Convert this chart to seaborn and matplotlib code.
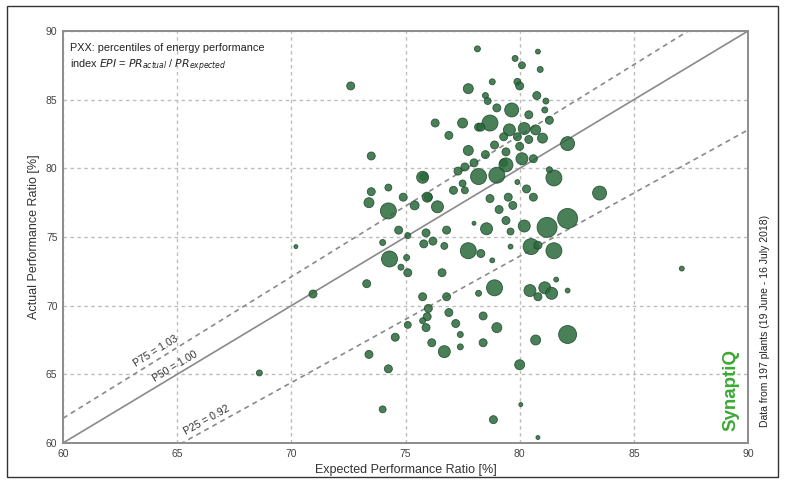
import numpy as np
import pandas as pd
import seaborn as sns
import matplotlib.pyplot as plt
from matplotlib.patches import Rectangle

# expected PR, actual PR, plant weight (bubble area)
expected_pr = [
    72.6, 68.6, 70.2, 70.95, 73.5, 76.3, 76.9, 77.5, 77.75, 78.15,
    77.75, 78.2, 79.8, 80.8, 80.1, 80.9, 78.8, 79.9, 80.0, 78.5,
    80.75, 78.6, 81.15, 79.0, 79.65, 81.1, 80.4, 78.7, 81.3, 78.3,
    79.55, 80.2, 80.7, 79.3, 79.9, 81.0, 80.4, 82.1, 80.0, 78.9,
    79.4, 78.5, 80.1, 80.6, 79.3, 79.4, 79.0, 78.2, 79.9, 81.5,
    81.3, 83.5, 75.8, 76.0, 76.4, 77.1, 77.5, 77.6, 78.0, 78.7,
    79.1, 79.5, 79.7, 80.3, 80.6, 80.2, 79.4, 81.2, 82.1, 78.0,
    78.55, 79.6, 75.9, 76.8, 75.8, 76.2, 76.7, 77.75, 78.3, 79.6,
    80.5, 80.8, 81.5, 78.8, 76.6, 78.9, 78.2, 80.45, 80.8, 81.1,
    81.4, 81.6, 82.1, 75.75, 76.8, 76.0, 75.95, 75.75, 75.9, 76.9,
    77.2, 78.4, 79.0, 77.4, 76.15, 76.7, 77.4, 78.4, 80.7, 82.1,
    80.0, 80.05, 78.85, 80.8, 87.1, 73.5, 74.25, 73.4, 74.25, 74.9,
    75.4, 75.75, 75.95, 77.3, 77.6, 74.7, 75.1, 74.0, 74.3, 75.05,
    74.8, 75.1, 73.3, 75.1, 74.55, 73.4, 74.25, 74.0,
]
actual_pr = [
    86.0, 65.1, 74.3, 70.85, 80.9, 83.3, 82.4, 83.3, 85.8, 88.7,
    81.3, 83.0, 88.0, 88.5, 87.5, 87.2, 86.3, 86.3, 86.0, 85.3,
    85.3, 84.9, 84.9, 84.4, 84.25, 84.25, 83.9, 83.3, 83.5, 83.0,
    82.8, 82.9, 82.8, 82.3, 82.3, 82.2, 82.1, 81.8, 81.6, 81.7,
    81.2, 81.0, 80.7, 80.7, 80.4, 80.25, 79.5, 79.4, 79.0, 79.3,
    79.9, 78.2, 79.4, 77.9, 77.2, 78.4, 78.9, 78.4, 80.4, 77.8,
    77.0, 77.9, 77.3, 78.5, 77.9, 75.8, 76.2, 75.7, 76.35, 76.0,
    75.6, 75.4, 75.3, 75.5, 74.5, 74.7, 74.35, 74.0, 73.8, 74.3,
    74.3, 74.4, 74.0, 73.3, 72.4, 71.3, 70.9, 71.1, 70.65, 71.3,
    70.9, 71.9, 71.1, 70.65, 70.65, 69.8, 69.2, 68.9, 68.4, 69.5,
    68.7, 69.25, 68.4, 67.9, 67.3, 66.65, 67.0, 67.3, 67.5, 67.9,
    65.7, 62.8, 61.7, 60.4, 72.7, 78.3, 78.6, 77.5, 76.9, 77.9,
    77.3, 79.35, 77.9, 79.8, 80.1, 75.5, 75.1, 74.6, 73.4, 73.5,
    72.8, 72.4, 71.6, 68.6, 67.7, 66.45, 65.4, 62.45,
]
plant_weight = [
    16, 9, 4, 16, 16, 16, 16, 25, 25, 9,
    25, 16, 9, 6, 12, 9, 9, 12, 16, 9,
    16, 12, 9, 16, 49, 9, 16, 64, 16, 16,
    36, 36, 25, 16, 16, 25, 16, 49, 16, 16,
    16, 16, 36, 16, 16, 49, 64, 64, 6, 64,
    9, 49, 16, 16, 36, 16, 12, 12, 16, 16,
    16, 16, 16, 16, 16, 36, 16, 100, 100, 4,
    36, 12, 16, 16, 16, 16, 12, 64, 16, 6,
    64, 16, 64, 6, 16, 64, 9, 36, 16, 36,
    36, 6, 6, 16, 16, 16, 16, 9, 16, 16,
    16, 16, 25, 9, 16, 36, 9, 16, 25, 81,
    25, 4, 16, 4, 6, 16, 12, 25, 64, 16,
    20, 36, 25, 16, 16, 16, 9, 9, 64, 9,
    9, 16, 16, 12, 16, 16, 16, 12,
]

axis_ticks = [60, 65, 70, 75, 80, 85, 90]
percentile_names = ["P75", "P50", "P25"]
percentile_ratios = [1.03, 1.00, 0.92]
percentile_label_x = [64.2, 65.0, 66.4]

df = pd.DataFrame({"expected": expected_pr, "actual": actual_pr, "weight": plant_weight})

sns.set_style("white")
plt.rcParams["font.family"] = ["Liberation Sans", "DejaVu Sans"]

fig = plt.figure(figsize=(7.85, 4.83), dpi=100)
ax = fig.add_axes([63 / 785, 1 - 443 / 483, 685 / 785, 412 / 483])

ax.set_xlim(60, 90)
ax.set_ylim(60, 90)
ax.set_xticks(axis_ticks)
ax.set_yticks(axis_ticks)
ax.grid(True, color="#bdbdbd", linestyle=(0, (2.5, 2.5)), linewidth=1)
ax.set_axisbelow(True)

# percentile lines
xs = np.array([60, 90])
for name, ratio, lx in zip(percentile_names, percentile_ratios, percentile_label_x):
    style = "-" if ratio == 1.0 else (0, (3, 2.5))
    ax.plot(xs, ratio * xs, color="#8a8a8a", linestyle=style, linewidth=1.2, zorder=1)
    angle = np.degrees(np.arctan(ratio))
    ax.text(lx, ratio * lx + 0.25, f"{name} = {ratio:.2f}", rotation=angle,
            transform_rotates_text=True, rotation_mode="anchor",
            ha="center", va="bottom", fontsize=7.5, color="#333333")

sns.scatterplot(data=df, x="expected", y="actual", size="weight",
                sizes=(8.3, 207), size_norm=(4, 100), color="#2a6a3b",
                alpha=0.85, edgecolor="#1c4629", linewidth=0.6,
                legend=False, ax=ax, zorder=3)

ax.set_xlabel("Expected Performance Ratio [%]", fontsize=9, color="#333333", labelpad=4)
ax.set_ylabel("Actual Performance Ratio [%]", fontsize=9, color="#333333", labelpad=4)
ax.tick_params(axis="both", labelsize=7.5, colors="#444444", length=2, pad=2)
for sp in ax.spines.values():
    sp.set_color("#8c8c8c")
    sp.set_linewidth(1.4)

ax.text(0.01, 0.972,
        "PXX: percentiles of energy performance\n"
        r"index $EPI$ = $PR_{actual}$ / $PR_{expected}$",
        transform=ax.transAxes, ha="left", va="top", fontsize=7.8,
        color="#222222", linespacing=1.5)

ax.text(0.975, 0.03, "SynaptiQ", transform=ax.transAxes, rotation=90,
        ha="center", va="bottom", fontsize=13.5, fontweight="bold",
        color="#3aaa35")

fig.text(765 / 785, 1 - 321 / 483, "Data from 197 plants (19 June - 16 July 2018)",
         rotation=90, ha="center", va="center", fontsize=7.5, color="#222222")

fig.patches.append(Rectangle((7 / 785, 6 / 483), 771 / 785, 471 / 483,
                             transform=fig.transFigure, fill=False,
                             edgecolor="#333333", linewidth=1))

fig.savefig("out.png", dpi=100)
